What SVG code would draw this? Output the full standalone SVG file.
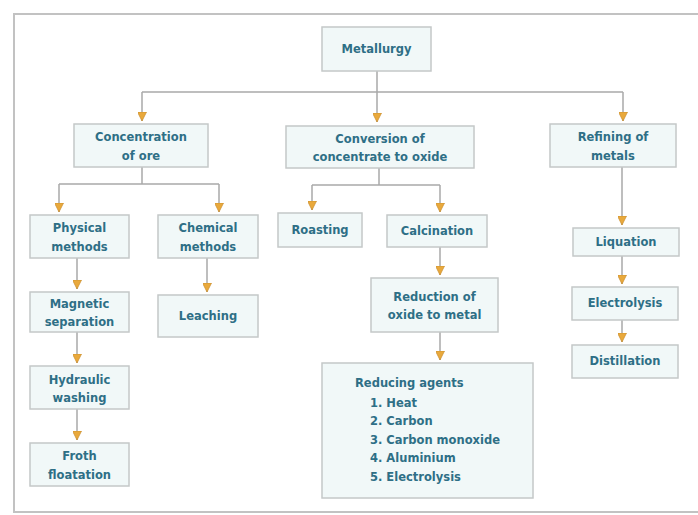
<svg xmlns="http://www.w3.org/2000/svg" width="698" height="515" viewBox="0 0 698 515">
<defs>
<marker id="arr" viewBox="0 0 10 10" refX="10" refY="5" markerWidth="10" markerHeight="9" markerUnits="userSpaceOnUse" orient="auto">
<path d="M0,0 L10,5 L0,10 z" fill="#e9a93c" stroke="#c98e2e" stroke-width="0.8"/>
</marker>
</defs>
<style>
.box{fill:#f1f8f8;stroke:#c4c8c8;stroke-width:1.5}
.t{font-family:"DejaVu Sans",Verdana,sans-serif;font-weight:bold;font-size:11.5px;fill:#2e6f86;text-anchor:middle}
.l{text-anchor:start}
.c{fill:none;stroke:#a9a9a9;stroke-width:1.5}
.a{marker-end:url(#arr)}
</style>
<rect x="14" y="14" width="690" height="498" fill="#ffffff" stroke="#c2c2c2" stroke-width="2"/>
<g id="connectors">
<path class="c" d="M377,71 V92 M142,92 H623"/>
<path class="c a" d="M142,92 V121"/>
<path class="c a" d="M377,92 V122"/>
<path class="c a" d="M623,92 V121"/>
<path class="c" d="M142,167 V184 M59,184 H219"/>
<path class="c a" d="M59,184 V212"/>
<path class="c a" d="M219,184 V212"/>
<path class="c a" d="M77,258 V289"/>
<path class="c a" d="M77,332 V363"/>
<path class="c a" d="M77,409 V440"/>
<path class="c a" d="M207,258 V292"/>
<path class="c" d="M379,168 V185 M312,185 H440"/>
<path class="c a" d="M312,185 V210"/>
<path class="c a" d="M440,185 V212"/>
<path class="c a" d="M440,247 V275"/>
<path class="c a" d="M440,332 V360"/>
<path class="c a" d="M622,167 V225"/>
<path class="c a" d="M622,256 V284"/>
<path class="c a" d="M622,320 V342"/>
</g>
<g id="metallurgy"><rect class="box" x="322" y="27" width="109" height="44"/><text class="t" x="376.5" y="53">Metallurgy</text></g>
<g id="concentration"><rect class="box" x="74" y="124" width="134" height="43"/><text class="t" x="141" y="141">Concentration</text><text class="t" x="141" y="160">of ore</text></g>
<g id="conversion"><rect class="box" x="286" y="126" width="188" height="42"/><text class="t" x="380" y="143">Conversion of</text><text class="t" x="380" y="161">concentrate to oxide</text></g>
<g id="refining"><rect class="box" x="550" y="124" width="126" height="43"/><text class="t" x="613" y="141">Refining of</text><text class="t" x="613" y="160">metals</text></g>
<g id="physical"><rect class="box" x="30" y="215" width="99" height="43"/><text class="t" x="79.5" y="232">Physical</text><text class="t" x="79.5" y="251">methods</text></g>
<g id="chemical"><rect class="box" x="158" y="215" width="100" height="43"/><text class="t" x="208" y="232">Chemical</text><text class="t" x="208" y="251">methods</text></g>
<g id="roasting"><rect class="box" x="278" y="213" width="84" height="34"/><text class="t" x="320" y="234">Roasting</text></g>
<g id="calcination"><rect class="box" x="387" y="215" width="100" height="32"/><text class="t" x="437" y="235">Calcination</text></g>
<g id="liquation"><rect class="box" x="573" y="228" width="106" height="28"/><text class="t" x="626" y="246">Liquation</text></g>
<g id="magnetic"><rect class="box" x="30" y="292" width="99" height="40"/><text class="t" x="79.5" y="308">Magnetic</text><text class="t" x="79.5" y="326">separation</text></g>
<g id="leaching"><rect class="box" x="158" y="295" width="100" height="42"/><text class="t" x="208" y="320">Leaching</text></g>
<g id="reduction"><rect class="box" x="371" y="278" width="127" height="54"/><text class="t" x="434.5" y="301">Reduction of</text><text class="t" x="434.5" y="319">oxide to metal</text></g>
<g id="electrolysis"><rect class="box" x="572" y="287" width="106" height="33"/><text class="t" x="625" y="307">Electrolysis</text></g>
<g id="distillation"><rect class="box" x="572" y="345" width="106" height="33"/><text class="t" x="625" y="365">Distillation</text></g>
<g id="hydraulic"><rect class="box" x="30" y="366" width="99" height="43"/><text class="t" x="79.5" y="384">Hydraulic</text><text class="t" x="79.5" y="402">washing</text></g>
<g id="froth"><rect class="box" x="30" y="443" width="99" height="43"/><text class="t" x="79.5" y="460">Froth</text><text class="t" x="79.5" y="479">floatation</text></g>
<g id="reducing-agents"><rect class="box" x="322" y="363" width="211" height="135"/>
<text class="t l" x="355" y="387">Reducing agents</text>
<text class="t l" x="370" y="407">1. Heat</text>
<text class="t l" x="370" y="425">2. Carbon</text>
<text class="t l" x="370" y="444">3. Carbon monoxide</text>
<text class="t l" x="370" y="462">4. Aluminium</text>
<text class="t l" x="370" y="481">5. Electrolysis</text>
</g>
</svg>
